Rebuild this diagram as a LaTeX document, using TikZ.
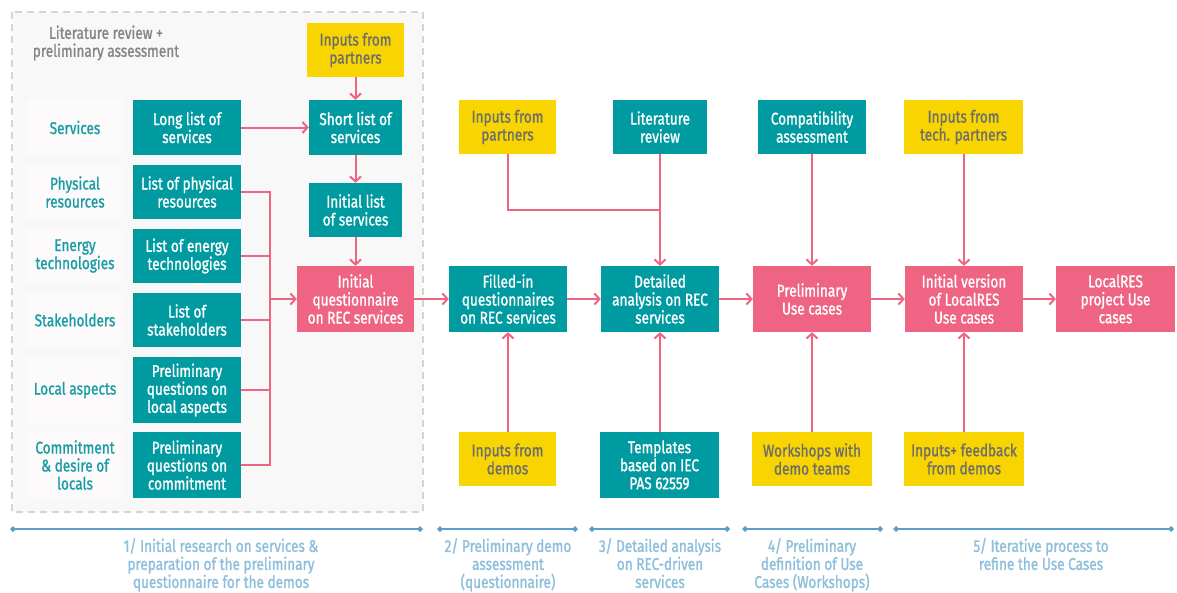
\documentclass[tikz,border=0pt]{standalone}
\usepackage{fontspec}
\setmainfont{Fira Sans}[FakeStretch=0.8, FakeBold=1.2]
\usetikzlibrary{arrows.meta}
\definecolor{teal0}{HTML}{009AA1}
\definecolor{pink0}{HTML}{EE6482}
\definecolor{yel0}{HTML}{F8D500}
\definecolor{ytext}{HTML}{6E6E6E}
\definecolor{ltext}{HTML}{1A9CA4}
\definecolor{tline}{HTML}{5B9EC9}
\definecolor{ttext}{HTML}{8DBFDC}
\definecolor{gfill}{HTML}{F8F8F8}
\definecolor{gdash}{HTML}{D4D4D4}
\definecolor{lfill}{HTML}{FCFAFB}
\definecolor{titlec}{HTML}{858585}
\begin{document}
\begin{tikzpicture}[x=1pt,y=-1pt,
  every node/.style={font=\fontsize{17}{18}\selectfont, align=center, inner sep=0pt},
  tbox/.style={fill=teal0, text=white, minimum width=#1},
  pbox/.style={fill=pink0, text=white, minimum width=#1},
  ybox/.style={fill=yel0, text=ytext, minimum width=#1},
  lab/.style={fill=lfill, text=ltext, minimum width=96},
  arr/.style={draw=pink0, line width=2, -{Straight Barb[length=5pt,width=11pt,line width=2pt]}},
  ln/.style={draw=pink0, line width=2},
  seg/.style={draw=tline, line width=1.6, {Turned Square[length=6pt,width=6pt]}-{Turned Square[length=6pt,width=6pt]}},
  tl/.style={text=ttext}
]
\useasboundingbox (0,0) rectangle (1177,592);
\fill[white] (0,0) rectangle (1177,592);
% dashed region
\draw[fill=gfill, draw=gdash, line width=1.6, dash pattern=on 7pt off 5pt] (12,12) rectangle (423,512);
\node[text=titlec] (title) at (106,43) {Literature review +\\preliminary assessment};

% left labels
\node[lab, minimum height=55] (labS) at (75,127.5) {Services};
\node[lab, minimum height=54] (labP) at (75,192) {Physical\\resources};
\node[lab, minimum height=54] (labE) at (75,256) {Energy\\technologies};
\node[lab, minimum height=54] (labK) at (75,320) {Stakeholders};
\node[lab, minimum height=66] (labL) at (75,390) {Local aspects};
\node[lab, minimum height=66] (labC) at (75,465) {Commitment\\\& desire of\\locals};

% column 1
\node[tbox=108, minimum height=55] (long) at (187,127.5) {Long list of\\services};
\node[tbox=108, minimum height=54] (phys) at (187,192) {List of physical\\resources};
\node[tbox=108, minimum height=54] (energy) at (187,256) {List of energy\\technologies};
\node[tbox=108, minimum height=54] (stake) at (187,320) {List of\\stakeholders};
\node[tbox=108, minimum height=66] (local) at (187,390) {Preliminary\\questions on\\local aspects};
\node[tbox=108, minimum height=66] (commit) at (187,465) {Preliminary\\questions on\\commitment};

% column 2
\node[ybox=97, minimum height=54] (inp1) at (355.5,50) {Inputs from\\partners};
\node[tbox=93, minimum height=55] (short) at (355.5,127.5) {Short list of\\services};
\node[tbox=93, minimum height=54] (initlist) at (355.5,210) {Initial list\\of services};
\node[pbox=117, minimum height=66] (quest) at (355.5,299) {Initial\\questionnaire\\on REC services};

% main row
\node[tbox=118, minimum height=66] (filled) at (508,299) {Filled-in\\questionnaires\\on REC services};
\node[tbox=118, minimum height=66] (detailed) at (660,299) {Detailed\\analysis on REC\\services};
\node[pbox=118, minimum height=66] (prelim) at (812,299) {Preliminary\\Use cases};
\node[pbox=118, minimum height=66] (initver) at (964,299) {Initial version\\of LocalRES\\Use cases};
\node[pbox=119, minimum height=66] (localres) at (1115.5,299) {LocalRES\\project Use\\cases};

% top row
\node[ybox=97, minimum height=54] (inp2) at (507.5,127) {Inputs from\\partners};
\node[tbox=94, minimum height=54] (litrev) at (660,127) {Literature\\review};
\node[tbox=108, minimum height=54] (compat) at (812,127) {Compatibility\\assessment};
\node[ybox=119, minimum height=54] (inptech) at (963.5,127) {Inputs from\\tech. partners};

% bottom row
\node[ybox=97, minimum height=54] (inpdemo) at (507.5,459) {Inputs from\\demos};
\node[tbox=119, minimum height=66] (templ) at (659.5,465) {Templates\\based on IEC\\PAS 62559};
\node[ybox=120, minimum height=54] (workshop) at (812,459) {Workshops with\\demo teams};
\node[ybox=120, minimum height=54] (inpfb) at (964,459) {Inputs+ feedback\\from demos};

% connectors column area
\draw[arr] (inp1) -- (short);
\draw[arr] (long) -- (short);
\draw[arr] (short) -- (initlist);
\draw[arr] (initlist) -- (quest);
\coordinate (busT) at (270,192);
\coordinate (busB) at (270,465);
\coordinate (busM) at (270,299);
\draw[ln] (phys.east) -- (busT) -- (busB) -- (commit.east);
\draw[ln] (energy.east) -- (energy.east -| busT);
\draw[ln] (stake.east) -- (stake.east -| busT);
\draw[ln] (local.east) -- (local.east -| busT);
\draw[arr] (busM) -- (quest.west);

% main flow
\draw[arr] (quest) -- (filled);
\draw[arr] (filled) -- (detailed);
\draw[arr] (detailed) -- (prelim);
\draw[arr] (prelim) -- (initver);
\draw[arr] (initver) -- (localres);

% top inputs
\coordinate (joint) at (660,210);
\draw[ln] (inp2.south) -- (inp2.south |- joint) -- (joint);
\draw[arr] (litrev) -- (detailed);
\draw[arr] (compat) -- (prelim);
\draw[arr] (inptech.south -| initver) -- (initver);

% bottom inputs
\draw[arr] (inpdemo.north -| filled) -- (filled);
\draw[arr] (templ.north -| detailed) -- (detailed);
\draw[arr] (workshop) -- (prelim);
\draw[arr] (inpfb) -- (initver);

% timeline
\coordinate (s1a) at (10,529); \coordinate (s1b) at (423,529);
\coordinate (s2a) at (437,529); \coordinate (s2b) at (578,529);
\coordinate (s3a) at (589,529); \coordinate (s3b) at (730,529);
\coordinate (s4a) at (742,529); \coordinate (s4b) at (883,529);
\coordinate (s5a) at (893,529); \coordinate (s5b) at (1174,529);
\draw[seg] (s1a) -- (s1b);
\draw[seg] (s2a) -- (s2b);
\draw[seg] (s3a) -- (s3b);
\draw[seg] (s4a) -- (s4b);
\draw[seg] (s5a) -- (s5b);
\node[tl, anchor=north] (t1) at (221,538) {1/ Initial research on services \&\\preparation of the preliminary\\questionnaire for the demos};
\node[tl, anchor=north] (t2) at (508,538) {2/ Preliminary demo\\assessment\\(questionnaire)};
\node[tl, anchor=north] (t3) at (660,538) {3/ Detailed analysis\\on REC-driven\\services};
\node[tl, anchor=north] (t4) at (812,538) {4/ Preliminary\\definition of Use\\Cases (Workshops)};
\node[tl, anchor=north] (t5) at (1041,538) {5/ Iterative process to\\refine the Use Cases};
\end{tikzpicture}
\end{document}
